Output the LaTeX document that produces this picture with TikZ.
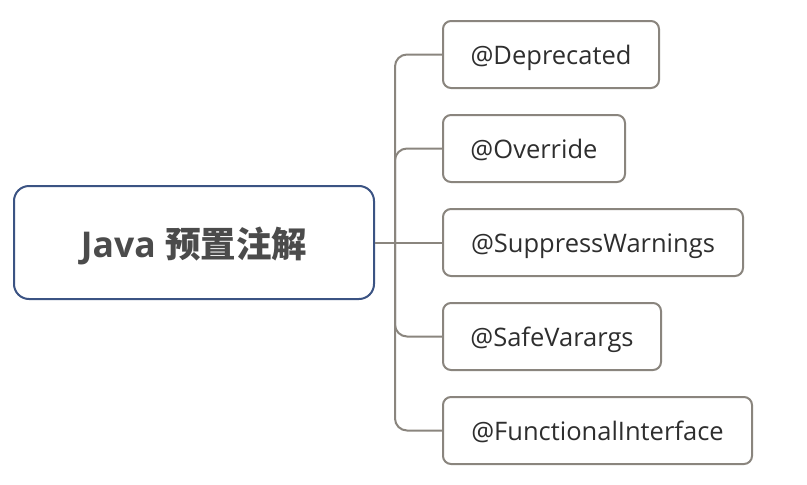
\documentclass[tikz,border=0pt]{standalone}
\usepackage{fontspec}
\setmainfont{Open Sans}
\newfontfamily\cjk{Noto Sans CJK SC}
\begin{document}
\begin{tikzpicture}[x=1pt,y=-1pt,
  rootbox/.style={draw=rootblue, line width=2pt, rounded corners=15pt, fill=white, minimum width=360pt, minimum height=113pt, inner sep=0pt, text height=31pt, text depth=1pt},
  leaf/.style={draw=leafgray, line width=2pt, rounded corners=8pt, fill=white, minimum height=67pt, inner sep=0pt, anchor=west, text=leaftext, font=\fontsize{25.5}{30}\selectfont, text height=21.5pt, text depth=1pt},
  conn/.style={draw=leafgray, line width=2pt, rounded corners=12pt}]
\definecolor{rootblue}{HTML}{3B5383}
\definecolor{leafgray}{HTML}{8A857E}
\definecolor{leaftext}{HTML}{2E2E2E}
\definecolor{roottext}{HTML}{4B4B4B}
\useasboundingbox (0,0) rectangle (807,485);
\node[rootbox, text=roottext, font=\fontsize{35.5}{40}\selectfont\bfseries] (root) at (194,242.5) {Java {\cjk\bfseries 预置注解}};
\node[leaf, minimum width=216pt] (a) at (442,54.5) {@Deprecated};
\node[leaf, minimum width=182pt] (b) at (442,148.5) {@Override};
\node[leaf, minimum width=300pt] (c) at (442,242.5) {@SuppressWarnings};
\node[leaf, minimum width=218pt] (d) at (442,336.5) {@SafeVarargs};
\node[leaf, minimum width=309pt] (e) at (442,430.5) {@FunctionalInterface};
\coordinate (j) at (395,242.5);
\draw[conn] (root.east) -- (j);
\foreach \n in {a,b,d,e} { \draw[conn] (j) |- (\n.west); }
\draw[conn] (j) -- (c.west);
\end{tikzpicture}
\end{document}
